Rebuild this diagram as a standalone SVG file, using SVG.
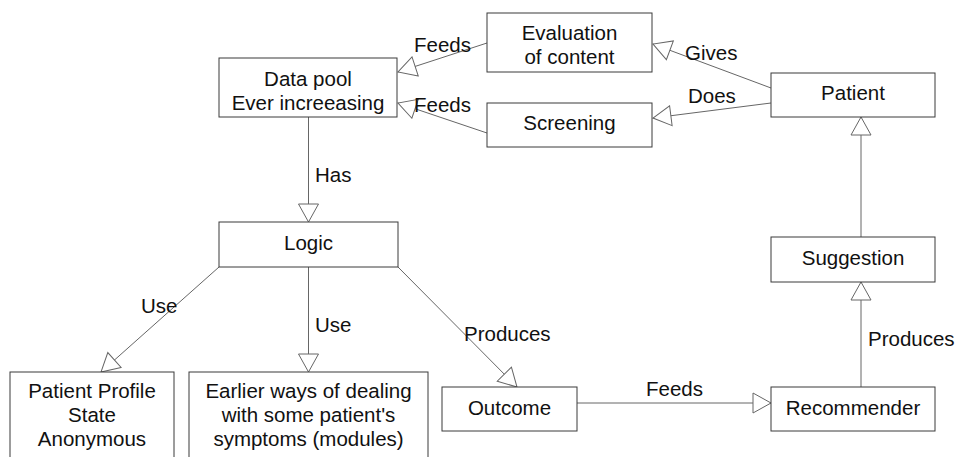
<svg xmlns="http://www.w3.org/2000/svg" width="957" height="457" viewBox="0 0 957 457">
  <style>
    .box { fill: #ffffff; stroke: #3a3a3a; stroke-width: 1; }
    .txt { font-family: "Liberation Sans", Arial, sans-serif; font-size: 20.5px; fill: #111111; text-anchor: middle; }
    .lbl { font-family: "Liberation Sans", Arial, sans-serif; font-size: 20.5px; fill: #111111; }
    .edge { fill: none; stroke: #666666; stroke-width: 1; marker-end: url(#hollow); }
  </style>
  <defs>
    <marker id="hollow" markerUnits="userSpaceOnUse" viewBox="-1 -1 20 22" refX="18" refY="10" markerWidth="20" markerHeight="22" orient="auto">
      <path d="M0,0 L18,10 L0,20 Z" fill="#ffffff" stroke="#666666" stroke-width="1"/>
    </marker>
  </defs>
  <rect width="957" height="457" fill="#ffffff"/>

  <g id="connectors">
    <line class="edge" x1="487" y1="43" x2="398" y2="72"/>
    <line class="edge" x1="487" y1="133" x2="398" y2="103"/>
    <line class="edge" x1="771" y1="88" x2="653" y2="44"/>
    <line class="edge" x1="771" y1="103" x2="653" y2="118"/>
    <line class="edge" x1="308.5" y1="117" x2="308.5" y2="222"/>
    <line class="edge" x1="219" y1="267" x2="101" y2="372"/>
    <line class="edge" x1="308.5" y1="267" x2="308.5" y2="372"/>
    <line class="edge" x1="398" y1="267" x2="517" y2="387"/>
    <line class="edge" x1="577" y1="403" x2="771" y2="403"/>
    <line class="edge" x1="861" y1="387" x2="861" y2="282"/>
    <line class="edge" x1="861" y1="237" x2="861" y2="117"/>
    <text class="lbl" x="414" y="52">Feeds</text>
    <text class="lbl" x="414" y="112">Feeds</text>
    <text class="lbl" x="685" y="60">Gives</text>
    <text class="lbl" x="688" y="103">Does</text>
    <text class="lbl" x="315" y="182">Has</text>
    <text class="lbl" x="141" y="313">Use</text>
    <text class="lbl" x="315" y="332">Use</text>
    <text class="lbl" x="464" y="341">Produces</text>
    <text class="lbl" x="646" y="396">Feeds</text>
    <text class="lbl" x="868" y="346">Produces</text>
  </g>

  <g id="data-pool">
    <rect class="box" x="219" y="58" width="178" height="59"/>
    <text class="txt" x="308" y="86">Data pool</text>
    <text class="txt" x="308" y="110">Ever increeasing</text>
  </g>
  <g id="evaluation">
    <rect class="box" x="487" y="13" width="165" height="59"/>
    <text class="txt" x="569.5" y="40">Evaluation</text>
    <text class="txt" x="569.5" y="64">of content</text>
  </g>
  <g id="screening">
    <rect class="box" x="487" y="103" width="165" height="44"/>
    <text class="txt" x="569.5" y="130">Screening</text>
  </g>
  <g id="patient">
    <rect class="box" x="771" y="73" width="164" height="44"/>
    <text class="txt" x="853" y="100">Patient</text>
  </g>
  <g id="suggestion">
    <rect class="box" x="771" y="237" width="164" height="45"/>
    <text class="txt" x="853" y="265">Suggestion</text>
  </g>
  <g id="logic">
    <rect class="box" x="219" y="222" width="179" height="45"/>
    <text class="txt" x="308.5" y="250">Logic</text>
  </g>
  <g id="patient-profile">
    <rect class="box" x="10" y="372" width="164" height="100"/>
    <text class="txt" x="92" y="398">Patient Profile</text>
    <text class="txt" x="92" y="422">State</text>
    <text class="txt" x="92" y="446">Anonymous</text>
  </g>
  <g id="earlier-ways">
    <rect class="box" x="189" y="372" width="239" height="100"/>
    <text class="txt" x="308.5" y="398">Earlier ways of dealing</text>
    <text class="txt" x="308.5" y="422">with some patient's</text>
    <text class="txt" x="308.5" y="446">symptoms (modules)</text>
  </g>
  <g id="outcome">
    <rect class="box" x="442" y="387" width="135" height="44"/>
    <text class="txt" x="509.5" y="415">Outcome</text>
  </g>
  <g id="recommender">
    <rect class="box" x="771" y="387" width="164" height="44"/>
    <text class="txt" x="853" y="415">Recommender</text>
  </g>
</svg>
